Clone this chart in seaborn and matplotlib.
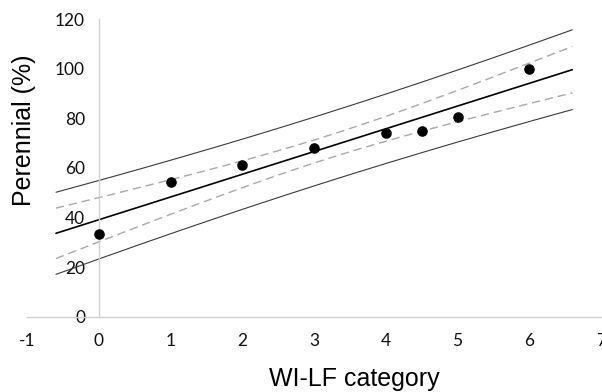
import numpy as np
import pandas as pd
import matplotlib
matplotlib.use("Agg")
import matplotlib.pyplot as plt
import seaborn as sns

# Observed values: perennial share per WI-LF category
category = [0, 1, 2, 3, 4, 4.5, 5, 6]
perennial = [33.5, 54.5, 61, 68, 74, 75, 80.5, 100]

x_ticks = [-1, 0, 1, 2, 3, 4, 5, 6, 7]
y_ticks = [0, 20, 40, 60, 80, 100, 120]

sns.set_style("white")

# Ordinary least squares fit with 95 % confidence and prediction bands
xo = np.asarray(category, float)
yo = np.asarray(perennial, float)
n = len(xo)
slope, intercept = np.polyfit(xo, yo, 1)
resid = yo - (intercept + slope * xo)
s = np.sqrt(np.sum(resid ** 2) / (n - 2))
t_crit = 2.4469  # t(0.975, df=6)
sxx = np.sum((xo - xo.mean()) ** 2)

xg = np.linspace(-0.6, 6.6, 200)
fit = intercept + slope * xg
se_mean = s * np.sqrt(1 / n + (xg - xo.mean()) ** 2 / sxx)
se_pred = s * np.sqrt(1 + 1 / n + (xg - xo.mean()) ** 2 / sxx)

bands = pd.DataFrame({
    "x": xg,
    "fit": fit,
    "ci_lo": fit - t_crit * se_mean,
    "ci_hi": fit + t_crit * se_mean,
    "pi_lo": fit - t_crit * se_pred,
    "pi_hi": fit + t_crit * se_pred,
})
points = pd.DataFrame({"category": category, "perennial": perennial})

fig = plt.figure(figsize=(6.02, 3.92), dpi=100)
ax = fig.add_axes([0.0453, 0.192, 0.9530, 0.7595])

for col in ("pi_lo", "pi_hi"):
    sns.lineplot(data=bands, x="x", y=col, ax=ax, color="#3a3a3a", linewidth=0.8)
for col in ("ci_lo", "ci_hi"):
    sns.lineplot(data=bands, x="x", y=col, ax=ax, color="#a8a8a8", linewidth=1.0,
                 dashes=False, linestyle=(0, (6, 3.5)))
sns.lineplot(data=bands, x="x", y="fit", ax=ax, color="black", linewidth=1.2)
sns.scatterplot(data=points, x="category", y="perennial", ax=ax, color="black",
                s=58, linewidth=0, zorder=5)

ax.set_xlim(-1, 7)
ax.set_ylim(0, 120)
ax.set_xticks(x_ticks)
ax.set_yticks(y_ticks)
ax.set_xticklabels([str(v) for v in x_ticks])
ax.set_yticklabels([str(v) for v in y_ticks])

for side in ("top", "right"):
    ax.spines[side].set_visible(False)
ax.spines["left"].set_position(("data", 0))
ax.spines["bottom"].set_position(("data", 0))
for side in ("left", "bottom"):
    ax.spines[side].set_color("#d0d0d0")
    ax.spines[side].set_linewidth(1.0)

ax.tick_params(axis="both", direction="inout", length=8, width=1.0,
               color="#d0d0d0", labelcolor="#111111", labelsize=12.5)
ax.tick_params(axis="y", pad=6)
ax.tick_params(axis="x", pad=8)
for lbl in ax.get_xticklabels() + ax.get_yticklabels():
    lbl.set_family("Lato")

ax.set_xlabel("")
ax.set_ylabel("")
fig.text(354 / 602, 0.0153, "WI-LF category", ha="center", va="baseline",
         fontsize=18, family="Liberation Sans", color="black")
fig.text(24 / 602, 1 - 130 / 392, "Perennial (%)", ha="center", va="center",
         rotation=90, fontsize=18, family="Liberation Sans", color="black")

fig.savefig("out.png", dpi=100)
